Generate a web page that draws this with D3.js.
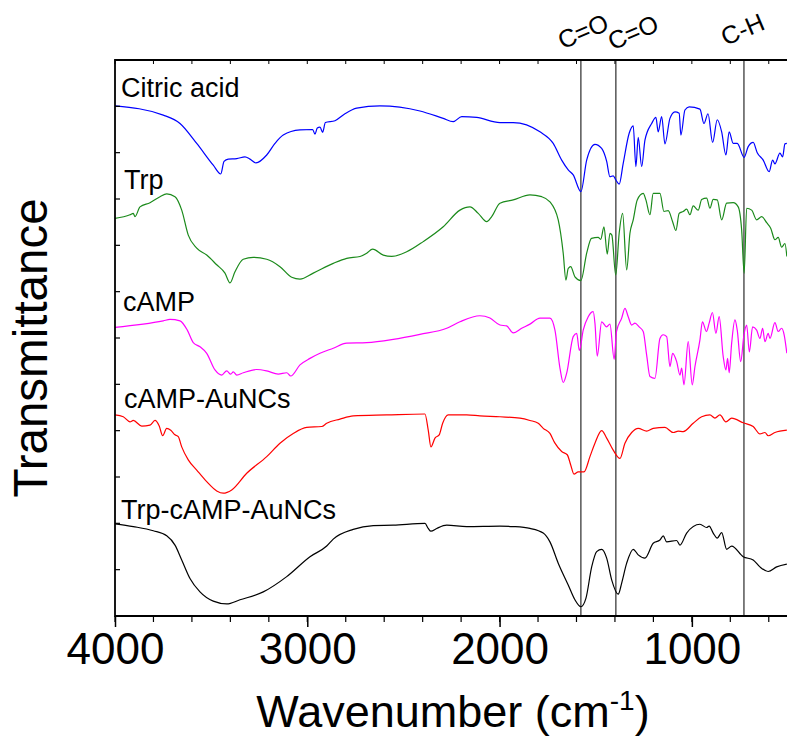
<!DOCTYPE html>
<html>
<head>
<meta charset="utf-8">
<script src="https://cdn.jsdelivr.net/npm/d3@7"></script>
<style>
  body { margin: 0; background: #fff; }
  svg { display: block; }
  text { font-family: "Liberation Sans", Arial, sans-serif; fill: #000; }
</style>
</head>
<body>
<svg id="chart" width="787" height="744"></svg>
<script>
// FTIR spectra, stacked with vertical offsets (transmittance, a.u.)
const citricWn = [4000,3749,3662,3575,3489,3450,3433,3411,3367,3324,3298,3267,3211,3168,3125,3038,2972,2960,2948,2934,2920,2906,2856,2804,2743,2622,2414,2293,2241,2197,2119,1998,1929,1790,1721,1677,1643,1617,1577,1547,1504,1469,1443,1426,1409,1395,1378,1357,1326,1305,1291,1279,1261,1244,1209,1187,1175,1157,1140,1114,1088,1066,1057,1036,1014,958,937,916,892,868,845,823,806,785,764,728,707,681,660,629,598,580,568,542,528,516,506];
const citricT = [110.1,108.1,106.3,102.0,97.3,95.4,98.1,98.6,98.7,99.1,98.6,97.8,99.5,102.0,103.8,104.9,105.0,104.0,105.3,105.5,104.4,106.5,106.9,108.4,109.6,110.1,109.0,107.4,106.7,107.8,107.6,106.5,106.5,104.5,102.0,98.4,96.3,95.2,91.6,98.4,101.8,100.9,98.1,94.8,95.0,94.1,93.2,97.7,104.2,105.8,97.0,103.3,97.0,102.7,106.3,107.6,104.5,107.8,101.9,107.4,108.8,108.5,103.8,109.2,109.9,109.4,106.3,108.4,102.2,107.1,104.5,99.5,104.5,102.0,102.0,99.0,101.3,102.2,100.0,98.4,95.9,98.4,97.6,99.9,99.1,101.9,102.0];

const trpWn = [4000,3922,3905,3896,3870,3818,3766,3731,3688,3653,3619,3575,3523,3471,3428,3402,3376,3333,3281,3211,3142,3081,3038,2969,2865,2795,2726,2691,2660,2605,2561,2483,2397,2293,2206,2154,2111,2067,2041,1998,1929,1842,1781,1738,1695,1669,1655,1643,1630,1608,1577,1547,1522,1487,1474,1457,1440,1426,1416,1396,1378,1360,1339,1322,1305,1284,1253,1239,1218,1201,1166,1145,1123,1100,1083,1066,1045,1027,1010,993,967,949,923,906,889,868,845,819,785,759,741,728,715,689,663,637,611,590,568,551,533,516,506];
const trpT = [85.8,86.6,86.9,86.2,88.3,89.2,90.5,91.1,90.5,87.6,82.2,79.4,77.9,75.8,74.0,71.9,74.3,77.0,77.4,77.0,75.4,73.1,72.7,74.0,76.1,77.2,77.6,78.3,79.2,77.9,77.6,78.6,80.8,84.0,87.6,88.3,86.9,85.1,86.2,89.1,89.8,90.9,90.5,89.4,85.5,78.3,72.5,75.0,75.4,73.2,72.4,78.3,81.5,81.7,81.3,84.0,78.1,82.6,82.2,73.6,82.6,86.9,74.7,82.6,85.5,89.8,91.2,89.8,86.6,91.2,91.2,87.3,87.5,85.1,83.2,86.9,87.3,87.8,86.6,88.5,87.6,89.9,90.2,88.0,89.9,89.8,85.5,89.1,89.2,88.3,83.3,74.0,88.0,87.6,85.5,86.2,84.9,83.7,81.2,81.7,79.6,80.4,77.6];

const campWn = [4000,3749,3714,3662,3624,3593,3558,3523,3480,3445,3419,3398,3385,3367,3333,3263,3211,3151,3107,3086,3038,2986,2934,2865,2795,2691,2553,2414,2275,2206,2102,2050,1998,1963,1929,1885,1842,1790,1738,1712,1686,1669,1651,1617,1599,1585,1565,1539,1513,1504,1492,1469,1443,1426,1404,1392,1365,1348,1331,1313,1296,1274,1253,1235,1218,1192,1166,1149,1131,1114,1100,1079,1062,1053,1041,1019,998,984,958,945,924,910,893,875,858,837,823,814,806,793,776,764,746,729,715,701,684,663,646,632,620,603,594,568,551,533,520,506];
const campT = [62.3,63.7,64.0,63.7,61.7,59.0,58.1,56.7,53.1,52.0,52.9,52.2,52.7,52.0,52.5,53.2,52.9,52.2,52.5,51.8,54.2,55.6,56.7,57.8,58.9,59.0,59.7,60.8,62.1,63.5,64.8,64.3,62.8,62.6,61.1,62.1,63.0,64.3,64.3,61.7,53.5,50.4,52.4,60.3,61.0,57.3,61.7,64.6,65.7,63.2,56.1,63.5,62.4,63.0,55.4,61.4,64.3,66.4,64.6,62.8,63.2,62.4,61.4,56.3,51.7,51.3,59.9,60.7,60.3,53.8,56.7,54.9,52.0,53.5,49.9,59.2,49.9,53.8,59.6,63.5,61.4,63.2,65.5,61.0,64.6,56.0,53.1,55.6,52.5,58.9,63.9,61.7,54.9,60.7,62.8,57.0,62.4,61.7,59.9,62.1,59.2,61.0,59.9,63.3,61.4,62.1,60.7,56.7];

const campAuWn = [4000,3957,3922,3905,3861,3818,3792,3770,3752,3731,3710,3688,3671,3653,3619,3575,3523,3471,3437,3393,3315,3211,3142,3073,3003,2925,2899,2830,2761,2587,2388,2371,2357,2336,2314,2296,2267,2171,2102,1998,1894,1842,1799,1773,1738,1712,1677,1648,1630,1613,1591,1561,1530,1504,1469,1443,1409,1374,1348,1313,1279,1235,1201,1140,1097,1071,1045,993,949,906,880,854,823,793,733,681,646,620,603,568,506];
const campAuT = [43.4,43.0,41.9,42.2,41.0,41.2,42.2,41.0,38.9,40.5,40.1,39.1,38.7,36.5,33.7,31.5,29.0,27.0,26.5,27.2,30.8,34.4,37.3,39.4,40.7,40.9,41.6,42.5,43.2,43.4,43.6,40.1,36.5,38.4,39.1,41.6,43.4,43.4,43.2,43.0,42.7,42.2,41.6,40.5,39.4,37.3,35.5,34.8,32.6,30.6,31.1,31.1,34.4,37.3,40.0,38.4,35.8,34.0,37.3,39.6,40.5,39.9,40.5,40.7,39.6,39.9,39.8,41.6,43.0,43.4,42.7,43.4,41.9,42.7,41.7,40.9,39.3,39.6,38.9,39.6,40.1];

const trpCampAuWn = [4000,3905,3801,3731,3688,3653,3610,3558,3489,3419,3350,3229,3107,2986,2899,2865,2761,2657,2553,2388,2371,2357,2327,2275,2171,1998,1929,1842,1773,1738,1695,1643,1608,1577,1551,1521,1495,1469,1443,1417,1383,1365,1339,1305,1279,1244,1201,1166,1149,1131,1079,1062,1027,958,923,910,889,868,845,819,793,733,681,646,603,559,506];
const trpCampAuT = [19.9,19.3,18.4,17.3,15.3,12.1,8.1,5.2,3.2,2.6,3.5,5.2,8.5,12.8,15.1,16.6,18.7,19.5,19.6,20.0,18.9,18.3,18.9,19.6,19.3,19.4,19.3,18.9,17.9,16.0,11.4,6.7,3.5,2.0,3.8,10.6,13.9,14.4,12.5,7.8,4.7,7.1,11.4,14.4,13.2,12.5,15.7,16.4,17.3,16.0,16.3,15.3,17.9,19.8,19.1,19.4,17.9,16.8,18.0,14.4,15.1,12.8,12.1,10.6,9.6,10.6,11.2];

const seriesNames = ["Citric acid", "Trp", "cAMP", "cAMP-AuNCs", "Trp-cAMP-AuNCs"];

// marked absorption bands
const bandWn = [1577, 1395, 729];
const bandLabels = ["C=O", "C=O", "C-H"];

// axis ticks
const xMajorTicks = [4000, 3000, 2000, 1000];
const xMinorTicks = d3.range(4000, 499, -200);
const yTicks = d3.range(0, 121, 10);

// ---- layout ----
const W = 787, H = 744;
const plot = { left: 115, right: 788, top: 60, bottom: 616 };
const colors = ["#0000ff", "#1b8a1b", "#ff00ff", "#ff0000", "#000000"];
const labelPos = [[121, 97], [124, 189], [123, 311], [124, 408], [121, 519]];
const bandLabelOffset = [[2, 31], [17, 32], [-1.5, 29]];

const svg = d3.select("#chart");
svg.append("rect").attr("width", W).attr("height", H).attr("fill", "#fff");

const x = d3.scaleLinear().domain([4000, 500]).range([plot.left, plot.right]);
const y = d3.scaleLinear().domain([0, 120]).range([plot.bottom, plot.top]);

const zip = (a, b) => d3.range(Math.min(a.length, b.length)).map(i => [a[i], b[i]]);
const series = [
  zip(citricWn, citricT),
  zip(trpWn, trpT),
  zip(campWn, campT),
  zip(campAuWn, campAuT),
  zip(trpCampAuWn, trpCampAuT)
];

svg.append("defs").append("clipPath").attr("id", "plotClip")
  .append("rect")
  .attr("x", plot.left).attr("y", plot.top - 2)
  .attr("width", W - plot.left).attr("height", plot.bottom - plot.top + 4);

// band marker lines
svg.append("g").selectAll("line").data(bandWn).join("line")
  .attr("x1", d => x(d)).attr("x2", d => x(d))
  .attr("y1", plot.top).attr("y2", plot.bottom)
  .attr("stroke", "#000").attr("stroke-width", 1);

// spectra
const line = d3.line()
  .x(d => x(d[0]))
  .y(d => y(d[1]))
  .curve(d3.curveMonotoneX);

svg.append("g").attr("clip-path", "url(#plotClip)")
  .selectAll("path").data(series).join("path")
  .attr("d", line)
  .attr("fill", "none")
  .attr("stroke", (d, i) => colors[i])
  .attr("stroke-width", 1.2)
  .attr("stroke-linejoin", "round");

// series labels
svg.append("g").selectAll("text").data(seriesNames).join("text")
  .attr("x", (d, i) => labelPos[i][0])
  .attr("y", (d, i) => labelPos[i][1])
  .attr("font-size", 27)
  .text(d => d);

// band labels, tilted
svg.append("g").selectAll("text").data(bandLabels).join("text")
  .attr("transform", (d, i) =>
    `translate(${x(bandWn[i]) + bandLabelOffset[i][0]},${bandLabelOffset[i][1]}) rotate(-23)`)
  .attr("text-anchor", "middle")
  .attr("dy", "0.36em")
  .attr("font-size", 25)
  .text(d => d);

// bottom axis: major + minor outward ticks
const bottomAxis = d3.axisBottom(x).tickValues(xMajorTicks).tickSize(11).tickPadding(6)
  .tickFormat(d3.format("d"));
const gB = svg.append("g").attr("transform", `translate(0,${plot.bottom})`).call(bottomAxis);
gB.select(".domain").remove();
gB.selectAll(".tick line").attr("stroke", "#000").attr("stroke-width", 1.5);
gB.selectAll(".tick text").attr("font-size", 44).attr("font-family", "Liberation Sans, Arial, sans-serif").attr("fill", "#000");

svg.append("g").selectAll("line").data(xMinorTicks).join("line")
  .attr("x1", d => x(d)).attr("x2", d => x(d))
  .attr("y1", plot.bottom).attr("y2", plot.bottom + 6)
  .attr("stroke", "#000").attr("stroke-width", 1.2);

// top axis: short inward ticks
svg.append("g").selectAll("line").data(xMinorTicks).join("line")
  .attr("x1", d => x(d)).attr("x2", d => x(d))
  .attr("y1", plot.top).attr("y2", plot.top + 4)
  .attr("stroke", "#000").attr("stroke-width", 1);

// left axis: inward ticks, no labels
svg.append("g").selectAll("line").data(yTicks).join("line")
  .attr("x1", plot.left).attr("x2", plot.left + 5)
  .attr("y1", d => y(d)).attr("y2", d => y(d))
  .attr("stroke", "#000").attr("stroke-width", 1.2);

// frame (left, top, bottom)
svg.append("path")
  .attr("d", `M${W + 2},${plot.top}H${plot.left}V${plot.bottom}H${W + 2}`)
  .attr("fill", "none").attr("stroke", "#000").attr("stroke-width", 1.8);

// axis titles
const xt = svg.append("text")
  .attr("x", 453).attr("y", 727)
  .attr("text-anchor", "middle")
  .attr("font-size", 45);
xt.append("tspan").text("Wavenumber (cm");
xt.append("tspan").attr("dy", -17).attr("font-size", 28).text("-1");
xt.append("tspan").attr("dy", 17).text(")");

svg.append("text")
  .attr("transform", "translate(47,348) rotate(-90)")
  .attr("text-anchor", "middle")
  .attr("font-size", 47.5)
  .text("Transmittance");
</script>
</body>
</html>
